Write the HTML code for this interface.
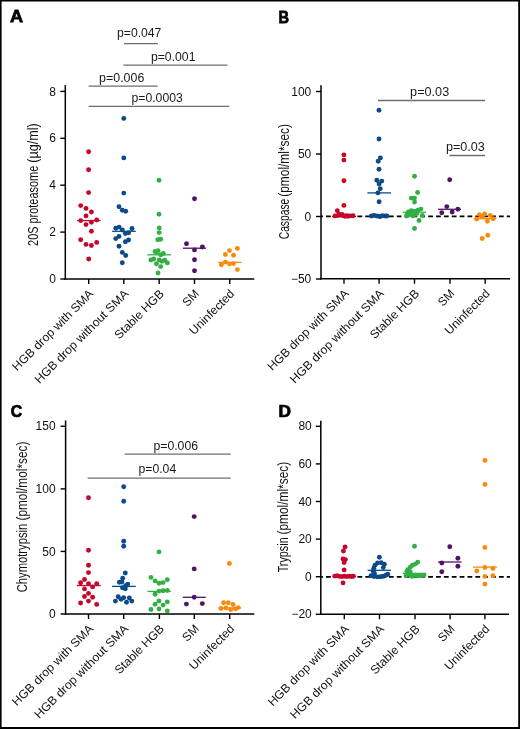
<!DOCTYPE html>
<html><head><meta charset="utf-8"><title>Proteasome activity figure</title>
<style>
html,body{margin:0;padding:0;background:#fff;}
svg{display:block;font-family:"Liberation Sans", sans-serif;}
</style></head>
<body>
<svg width="520" height="729" viewBox="0 0 520 729">
<rect width="520" height="729" fill="#fff"/>
<line x1="65.3" y1="85.1" x2="65.3" y2="279.75" stroke="#000" stroke-width="1.5"/>
<line x1="64.55" y1="279" x2="254.3" y2="279" stroke="#000" stroke-width="1.5"/>
<line x1="60.3" y1="279.0" x2="65.3" y2="279.0" stroke="#000" stroke-width="1.4"/>
<line x1="60.3" y1="232.1" x2="65.3" y2="232.1" stroke="#000" stroke-width="1.4"/>
<line x1="60.3" y1="185.2" x2="65.3" y2="185.2" stroke="#000" stroke-width="1.4"/>
<line x1="60.3" y1="138.3" x2="65.3" y2="138.3" stroke="#000" stroke-width="1.4"/>
<line x1="60.3" y1="91.4" x2="65.3" y2="91.4" stroke="#000" stroke-width="1.4"/>
<line x1="88.7" y1="279" x2="88.7" y2="284" stroke="#000" stroke-width="1.4"/>
<line x1="123.8" y1="279" x2="123.8" y2="284" stroke="#000" stroke-width="1.4"/>
<line x1="159.2" y1="279" x2="159.2" y2="284" stroke="#000" stroke-width="1.4"/>
<line x1="194.5" y1="279" x2="194.5" y2="284" stroke="#000" stroke-width="1.4"/>
<line x1="229.7" y1="279" x2="229.7" y2="284" stroke="#000" stroke-width="1.4"/>
<line x1="124.1" y1="43.7" x2="158.0" y2="43.7" stroke="#6e6e6e" stroke-width="1.3"/>
<line x1="123.4" y1="65.1" x2="227.5" y2="65.1" stroke="#6e6e6e" stroke-width="1.3"/>
<line x1="88.6" y1="86.2" x2="157.7" y2="86.2" stroke="#6e6e6e" stroke-width="1.3"/>
<line x1="88.6" y1="106.3" x2="229.3" y2="106.3" stroke="#6e6e6e" stroke-width="1.3"/>
<line x1="77.1" y1="220.6" x2="100.5" y2="220.6" stroke="#c6062a" stroke-width="1.3"/>
<circle cx="88.6" cy="151.7" r="2.45" fill="#c6062a"/>
<circle cx="88.6" cy="169.7" r="2.45" fill="#c6062a"/>
<circle cx="88.6" cy="192.6" r="2.45" fill="#c6062a"/>
<circle cx="80.7" cy="205.6" r="2.45" fill="#c6062a"/>
<circle cx="86" cy="208.4" r="2.45" fill="#c6062a"/>
<circle cx="91.4" cy="212" r="2.45" fill="#c6062a"/>
<circle cx="86" cy="215.9" r="2.45" fill="#c6062a"/>
<circle cx="80.7" cy="220.6" r="2.45" fill="#c6062a"/>
<circle cx="96.7" cy="220" r="2.45" fill="#c6062a"/>
<circle cx="91.4" cy="222.2" r="2.45" fill="#c6062a"/>
<circle cx="86" cy="224.6" r="2.45" fill="#c6062a"/>
<circle cx="91.4" cy="231.2" r="2.45" fill="#c6062a"/>
<circle cx="80.7" cy="239.7" r="2.45" fill="#c6062a"/>
<circle cx="86" cy="244.4" r="2.45" fill="#c6062a"/>
<circle cx="96.7" cy="242.4" r="2.45" fill="#c6062a"/>
<circle cx="91.4" cy="245.5" r="2.45" fill="#c6062a"/>
<circle cx="88.7" cy="259" r="2.45" fill="#c6062a"/>
<line x1="112.1" y1="231.3" x2="135.8" y2="231.3" stroke="#0c4a8a" stroke-width="1.3"/>
<circle cx="123.8" cy="118.4" r="2.45" fill="#0c4a8a"/>
<circle cx="123.8" cy="157.9" r="2.45" fill="#0c4a8a"/>
<circle cx="123.8" cy="193.1" r="2.45" fill="#0c4a8a"/>
<circle cx="119" cy="206.8" r="2.45" fill="#0c4a8a"/>
<circle cx="122.3" cy="210.2" r="2.45" fill="#0c4a8a"/>
<circle cx="125.7" cy="211.3" r="2.45" fill="#0c4a8a"/>
<circle cx="115.8" cy="228.2" r="2.45" fill="#0c4a8a"/>
<circle cx="119.1" cy="227.1" r="2.45" fill="#0c4a8a"/>
<circle cx="122.3" cy="230" r="2.45" fill="#0c4a8a"/>
<circle cx="132" cy="228.5" r="2.45" fill="#0c4a8a"/>
<circle cx="125.4" cy="233.5" r="2.45" fill="#0c4a8a"/>
<circle cx="128.6" cy="232.7" r="2.45" fill="#0c4a8a"/>
<circle cx="119" cy="236.4" r="2.45" fill="#0c4a8a"/>
<circle cx="115.8" cy="238.6" r="2.45" fill="#0c4a8a"/>
<circle cx="125.4" cy="241.7" r="2.45" fill="#0c4a8a"/>
<circle cx="128.6" cy="240" r="2.45" fill="#0c4a8a"/>
<circle cx="119" cy="246.2" r="2.45" fill="#0c4a8a"/>
<circle cx="122.3" cy="252.4" r="2.45" fill="#0c4a8a"/>
<circle cx="125.7" cy="255.5" r="2.45" fill="#0c4a8a"/>
<circle cx="122.3" cy="262.8" r="2.45" fill="#0c4a8a"/>
<line x1="147.3" y1="254.8" x2="171" y2="254.8" stroke="#31b046" stroke-width="1.3"/>
<circle cx="159" cy="180.3" r="2.45" fill="#31b046"/>
<circle cx="159" cy="214.2" r="2.45" fill="#31b046"/>
<circle cx="159.2" cy="227.9" r="2.45" fill="#31b046"/>
<circle cx="159.2" cy="232.6" r="2.45" fill="#31b046"/>
<circle cx="157.8" cy="239.8" r="2.45" fill="#31b046"/>
<circle cx="160.7" cy="239.2" r="2.45" fill="#31b046"/>
<circle cx="155.1" cy="251.4" r="2.45" fill="#31b046"/>
<circle cx="158" cy="250.8" r="2.45" fill="#31b046"/>
<circle cx="156.5" cy="252.6" r="2.45" fill="#31b046"/>
<circle cx="160.7" cy="254.7" r="2.45" fill="#31b046"/>
<circle cx="163.3" cy="253.4" r="2.45" fill="#31b046"/>
<circle cx="150.9" cy="260" r="2.45" fill="#31b046"/>
<circle cx="153.7" cy="259" r="2.45" fill="#31b046"/>
<circle cx="159.2" cy="260" r="2.45" fill="#31b046"/>
<circle cx="161.9" cy="261.3" r="2.45" fill="#31b046"/>
<circle cx="164.8" cy="260.3" r="2.45" fill="#31b046"/>
<circle cx="167.4" cy="262.9" r="2.45" fill="#31b046"/>
<circle cx="156.4" cy="263.7" r="2.45" fill="#31b046"/>
<circle cx="160.7" cy="266.6" r="2.45" fill="#31b046"/>
<circle cx="158" cy="273" r="2.45" fill="#31b046"/>
<line x1="182.9" y1="248.2" x2="206" y2="248.2" stroke="#4f1466" stroke-width="1.3"/>
<circle cx="194.5" cy="198.7" r="2.45" fill="#4f1466"/>
<circle cx="186.5" cy="243.8" r="2.45" fill="#4f1466"/>
<circle cx="202.4" cy="247" r="2.45" fill="#4f1466"/>
<circle cx="194.5" cy="249.9" r="2.45" fill="#4f1466"/>
<circle cx="194.5" cy="259.7" r="2.45" fill="#4f1466"/>
<circle cx="194.5" cy="270.8" r="2.45" fill="#4f1466"/>
<line x1="218.2" y1="262.4" x2="241.6" y2="262.4" stroke="#f98b0c" stroke-width="1.3"/>
<circle cx="237.4" cy="248.4" r="2.45" fill="#f98b0c"/>
<circle cx="229.5" cy="250.6" r="2.45" fill="#f98b0c"/>
<circle cx="225.4" cy="254.5" r="2.45" fill="#f98b0c"/>
<circle cx="233.5" cy="255.2" r="2.45" fill="#f98b0c"/>
<circle cx="225.4" cy="262.1" r="2.45" fill="#f98b0c"/>
<circle cx="221.4" cy="264.7" r="2.45" fill="#f98b0c"/>
<circle cx="229.5" cy="263.9" r="2.45" fill="#f98b0c"/>
<circle cx="233.5" cy="263.6" r="2.45" fill="#f98b0c"/>
<circle cx="237.4" cy="269.6" r="2.45" fill="#f98b0c"/>
<line x1="321" y1="85.2" x2="321" y2="279.55" stroke="#000" stroke-width="1.5"/>
<line x1="320.25" y1="278.8" x2="510" y2="278.8" stroke="#000" stroke-width="1.5"/>
<line x1="316" y1="91.5" x2="321" y2="91.5" stroke="#000" stroke-width="1.4"/>
<line x1="316" y1="154.0" x2="321" y2="154.0" stroke="#000" stroke-width="1.4"/>
<line x1="316" y1="216.5" x2="321" y2="216.5" stroke="#000" stroke-width="1.4"/>
<line x1="316" y1="279.0" x2="321" y2="279.0" stroke="#000" stroke-width="1.4"/>
<line x1="344" y1="278.8" x2="344" y2="283.8" stroke="#000" stroke-width="1.4"/>
<line x1="379.1" y1="278.8" x2="379.1" y2="283.8" stroke="#000" stroke-width="1.4"/>
<line x1="414.5" y1="278.8" x2="414.5" y2="283.8" stroke="#000" stroke-width="1.4"/>
<line x1="450" y1="278.8" x2="450" y2="283.8" stroke="#000" stroke-width="1.4"/>
<line x1="485.2" y1="278.8" x2="485.2" y2="283.8" stroke="#000" stroke-width="1.4"/>
<line x1="321" y1="216.35" x2="510" y2="216.35" stroke="#000" stroke-width="1.7" stroke-dasharray="4.8 3.06" stroke-dashoffset="2.86"/>
<line x1="378" y1="100.5" x2="485" y2="100.5" stroke="#6e6e6e" stroke-width="1.3"/>
<line x1="449.5" y1="155.5" x2="485" y2="155.5" stroke="#6e6e6e" stroke-width="1.3"/>
<line x1="332" y1="216.5" x2="356" y2="216.5" stroke="#c6062a" stroke-width="1.3"/>
<circle cx="343.9" cy="154.9" r="2.45" fill="#c6062a"/>
<circle cx="343.9" cy="160.1" r="2.45" fill="#c6062a"/>
<circle cx="343.9" cy="180.7" r="2.45" fill="#c6062a"/>
<circle cx="343.9" cy="205.4" r="2.45" fill="#c6062a"/>
<circle cx="337.3" cy="210.7" r="2.45" fill="#c6062a"/>
<circle cx="335" cy="215.9" r="2.45" fill="#c6062a"/>
<circle cx="338" cy="215.6" r="2.45" fill="#c6062a"/>
<circle cx="341" cy="215.3" r="2.45" fill="#c6062a"/>
<circle cx="344" cy="215.9" r="2.45" fill="#c6062a"/>
<circle cx="347" cy="215.6" r="2.45" fill="#c6062a"/>
<circle cx="350" cy="215.9" r="2.45" fill="#c6062a"/>
<circle cx="353" cy="215.8" r="2.45" fill="#c6062a"/>
<circle cx="339" cy="214.1" r="2.45" fill="#c6062a"/>
<circle cx="342" cy="214.4" r="2.45" fill="#c6062a"/>
<circle cx="345" cy="216.2" r="2.45" fill="#c6062a"/>
<circle cx="348" cy="216.2" r="2.45" fill="#c6062a"/>
<line x1="367.4" y1="192.9" x2="391" y2="192.9" stroke="#0c4a8a" stroke-width="1.3"/>
<circle cx="379" cy="110.2" r="2.45" fill="#0c4a8a"/>
<circle cx="379" cy="139" r="2.45" fill="#0c4a8a"/>
<circle cx="380.4" cy="157.9" r="2.45" fill="#0c4a8a"/>
<circle cx="378.2" cy="161.3" r="2.45" fill="#0c4a8a"/>
<circle cx="379" cy="169.2" r="2.45" fill="#0c4a8a"/>
<circle cx="376.9" cy="180.3" r="2.45" fill="#0c4a8a"/>
<circle cx="381.8" cy="181.1" r="2.45" fill="#0c4a8a"/>
<circle cx="379.1" cy="184" r="2.45" fill="#0c4a8a"/>
<circle cx="380.2" cy="188.8" r="2.45" fill="#0c4a8a"/>
<circle cx="377.9" cy="192.9" r="2.45" fill="#0c4a8a"/>
<circle cx="379.1" cy="201.7" r="2.45" fill="#0c4a8a"/>
<circle cx="371.4" cy="216.0" r="2.45" fill="#0c4a8a"/>
<circle cx="374" cy="215.4" r="2.45" fill="#0c4a8a"/>
<circle cx="376.8" cy="216.0" r="2.45" fill="#0c4a8a"/>
<circle cx="379.6" cy="216.4" r="2.45" fill="#0c4a8a"/>
<circle cx="382.4" cy="215.8" r="2.45" fill="#0c4a8a"/>
<circle cx="385.2" cy="216.0" r="2.45" fill="#0c4a8a"/>
<circle cx="386.9" cy="216.0" r="2.45" fill="#0c4a8a"/>
<circle cx="380" cy="216.6" r="2.45" fill="#0c4a8a"/>
<line x1="402.7" y1="212.2" x2="426.2" y2="212.2" stroke="#31b046" stroke-width="1.3"/>
<circle cx="414.5" cy="176.2" r="2.45" fill="#31b046"/>
<circle cx="417.6" cy="192.5" r="2.45" fill="#31b046"/>
<circle cx="411.3" cy="198.1" r="2.45" fill="#31b046"/>
<circle cx="414.5" cy="198.1" r="2.45" fill="#31b046"/>
<circle cx="414.5" cy="202" r="2.45" fill="#31b046"/>
<circle cx="420.9" cy="209.1" r="2.45" fill="#31b046"/>
<circle cx="418" cy="210.1" r="2.45" fill="#31b046"/>
<circle cx="414.7" cy="211.1" r="2.45" fill="#31b046"/>
<circle cx="411.3" cy="210.6" r="2.45" fill="#31b046"/>
<circle cx="408.4" cy="212" r="2.45" fill="#31b046"/>
<circle cx="407" cy="214.9" r="2.45" fill="#31b046"/>
<circle cx="406.5" cy="216.1" r="2.45" fill="#31b046"/>
<circle cx="409.9" cy="214.4" r="2.45" fill="#31b046"/>
<circle cx="412.8" cy="215.9" r="2.45" fill="#31b046"/>
<circle cx="415.6" cy="214.4" r="2.45" fill="#31b046"/>
<circle cx="417.1" cy="213" r="2.45" fill="#31b046"/>
<circle cx="411.5" cy="213" r="2.45" fill="#31b046"/>
<circle cx="422.4" cy="215.4" r="2.45" fill="#31b046"/>
<circle cx="419" cy="220.5" r="2.45" fill="#31b046"/>
<circle cx="414.5" cy="228.5" r="2.45" fill="#31b046"/>
<line x1="438" y1="209.3" x2="461" y2="209.3" stroke="#4f1466" stroke-width="1.3"/>
<circle cx="449.7" cy="179.7" r="2.45" fill="#4f1466"/>
<circle cx="446.8" cy="206.6" r="2.45" fill="#4f1466"/>
<circle cx="441.8" cy="212.8" r="2.45" fill="#4f1466"/>
<circle cx="452.2" cy="212" r="2.45" fill="#4f1466"/>
<circle cx="457.9" cy="209.3" r="2.45" fill="#4f1466"/>
<line x1="473.7" y1="218.7" x2="496.6" y2="218.7" stroke="#f98b0c" stroke-width="1.3"/>
<circle cx="479.5" cy="214.6" r="2.45" fill="#f98b0c"/>
<circle cx="484.7" cy="214" r="2.45" fill="#f98b0c"/>
<circle cx="490.2" cy="215.4" r="2.45" fill="#f98b0c"/>
<circle cx="482.2" cy="216.7" r="2.45" fill="#f98b0c"/>
<circle cx="476.7" cy="219.1" r="2.45" fill="#f98b0c"/>
<circle cx="493.1" cy="218.8" r="2.45" fill="#f98b0c"/>
<circle cx="487.4" cy="221.2" r="2.45" fill="#f98b0c"/>
<circle cx="487.8" cy="235.2" r="2.45" fill="#f98b0c"/>
<circle cx="482.2" cy="238.5" r="2.45" fill="#f98b0c"/>
<line x1="65.6" y1="420.5" x2="65.6" y2="614.75" stroke="#000" stroke-width="1.5"/>
<line x1="64.85" y1="614" x2="254.3" y2="614" stroke="#000" stroke-width="1.5"/>
<line x1="60.599999999999994" y1="614.0" x2="65.6" y2="614.0" stroke="#000" stroke-width="1.4"/>
<line x1="60.599999999999994" y1="551.43" x2="65.6" y2="551.43" stroke="#000" stroke-width="1.4"/>
<line x1="60.599999999999994" y1="488.87" x2="65.6" y2="488.87" stroke="#000" stroke-width="1.4"/>
<line x1="60.599999999999994" y1="426.3" x2="65.6" y2="426.3" stroke="#000" stroke-width="1.4"/>
<line x1="88.5" y1="614" x2="88.5" y2="619" stroke="#000" stroke-width="1.4"/>
<line x1="123.7" y1="614" x2="123.7" y2="619" stroke="#000" stroke-width="1.4"/>
<line x1="159.4" y1="614" x2="159.4" y2="619" stroke="#000" stroke-width="1.4"/>
<line x1="194.3" y1="614" x2="194.3" y2="619" stroke="#000" stroke-width="1.4"/>
<line x1="229.7" y1="614" x2="229.7" y2="619" stroke="#000" stroke-width="1.4"/>
<line x1="124.6" y1="454.2" x2="230.8" y2="454.2" stroke="#6e6e6e" stroke-width="1.3"/>
<line x1="87.7" y1="478.1" x2="230.8" y2="478.1" stroke="#6e6e6e" stroke-width="1.3"/>
<line x1="76.9" y1="585.5" x2="100.7" y2="585.5" stroke="#c6062a" stroke-width="1.3"/>
<circle cx="88.5" cy="497.7" r="2.45" fill="#c6062a"/>
<circle cx="88.5" cy="550.2" r="2.45" fill="#c6062a"/>
<circle cx="88.5" cy="565.2" r="2.45" fill="#c6062a"/>
<circle cx="88.5" cy="572.6" r="2.45" fill="#c6062a"/>
<circle cx="84.5" cy="579.5" r="2.45" fill="#c6062a"/>
<circle cx="80.6" cy="582.7" r="2.45" fill="#c6062a"/>
<circle cx="88.5" cy="583.7" r="2.45" fill="#c6062a"/>
<circle cx="96.7" cy="583.7" r="2.45" fill="#c6062a"/>
<circle cx="92.6" cy="586.9" r="2.45" fill="#c6062a"/>
<circle cx="84.5" cy="588.9" r="2.45" fill="#c6062a"/>
<circle cx="88.5" cy="593.4" r="2.45" fill="#c6062a"/>
<circle cx="84.5" cy="596.5" r="2.45" fill="#c6062a"/>
<circle cx="92.6" cy="597.3" r="2.45" fill="#c6062a"/>
<circle cx="88.5" cy="601.1" r="2.45" fill="#c6062a"/>
<circle cx="80.6" cy="603" r="2.45" fill="#c6062a"/>
<circle cx="96.7" cy="604.4" r="2.45" fill="#c6062a"/>
<line x1="112" y1="586.4" x2="135.8" y2="586.4" stroke="#0c4a8a" stroke-width="1.3"/>
<circle cx="123.7" cy="486.7" r="2.45" fill="#0c4a8a"/>
<circle cx="123.7" cy="501.2" r="2.45" fill="#0c4a8a"/>
<circle cx="123.7" cy="541.2" r="2.45" fill="#0c4a8a"/>
<circle cx="123.7" cy="546.3" r="2.45" fill="#0c4a8a"/>
<circle cx="125.3" cy="573" r="2.45" fill="#0c4a8a"/>
<circle cx="122.7" cy="578.3" r="2.45" fill="#0c4a8a"/>
<circle cx="119.4" cy="582.3" r="2.45" fill="#0c4a8a"/>
<circle cx="121.9" cy="582" r="2.45" fill="#0c4a8a"/>
<circle cx="127.8" cy="584.1" r="2.45" fill="#0c4a8a"/>
<circle cx="125.6" cy="585.7" r="2.45" fill="#0c4a8a"/>
<circle cx="122.5" cy="587.8" r="2.45" fill="#0c4a8a"/>
<circle cx="125.3" cy="588.8" r="2.45" fill="#0c4a8a"/>
<circle cx="118.2" cy="596.8" r="2.45" fill="#0c4a8a"/>
<circle cx="121" cy="599.3" r="2.45" fill="#0c4a8a"/>
<circle cx="123.7" cy="597.7" r="2.45" fill="#0c4a8a"/>
<circle cx="115.4" cy="601.1" r="2.45" fill="#0c4a8a"/>
<circle cx="126.5" cy="602.3" r="2.45" fill="#0c4a8a"/>
<circle cx="129.3" cy="598" r="2.45" fill="#0c4a8a"/>
<circle cx="131.8" cy="601.1" r="2.45" fill="#0c4a8a"/>
<line x1="147.5" y1="591.4" x2="170.8" y2="591.4" stroke="#31b046" stroke-width="1.3"/>
<circle cx="159" cy="551.9" r="2.45" fill="#31b046"/>
<circle cx="151" cy="577.4" r="2.45" fill="#31b046"/>
<circle cx="155.1" cy="580.9" r="2.45" fill="#31b046"/>
<circle cx="159" cy="583.2" r="2.45" fill="#31b046"/>
<circle cx="163.1" cy="582.6" r="2.45" fill="#31b046"/>
<circle cx="167.3" cy="579.8" r="2.45" fill="#31b046"/>
<circle cx="159" cy="591.1" r="2.45" fill="#31b046"/>
<circle cx="163.1" cy="590.8" r="2.45" fill="#31b046"/>
<circle cx="167.3" cy="590.5" r="2.45" fill="#31b046"/>
<circle cx="155.1" cy="594.2" r="2.45" fill="#31b046"/>
<circle cx="159" cy="601" r="2.45" fill="#31b046"/>
<circle cx="155.1" cy="604.3" r="2.45" fill="#31b046"/>
<circle cx="163.1" cy="605.1" r="2.45" fill="#31b046"/>
<circle cx="167.3" cy="601.9" r="2.45" fill="#31b046"/>
<circle cx="151" cy="609.5" r="2.45" fill="#31b046"/>
<circle cx="159" cy="609" r="2.45" fill="#31b046"/>
<circle cx="167.3" cy="610.9" r="2.45" fill="#31b046"/>
<line x1="182.8" y1="597.3" x2="205.8" y2="597.3" stroke="#4f1466" stroke-width="1.3"/>
<circle cx="194.2" cy="516.6" r="2.45" fill="#4f1466"/>
<circle cx="194.2" cy="568.9" r="2.45" fill="#4f1466"/>
<circle cx="194.2" cy="597.3" r="2.45" fill="#4f1466"/>
<circle cx="186.4" cy="604.1" r="2.45" fill="#4f1466"/>
<circle cx="202.3" cy="603.6" r="2.45" fill="#4f1466"/>
<line x1="218" y1="608" x2="241.2" y2="608" stroke="#f98b0c" stroke-width="1.3"/>
<circle cx="229.4" cy="563.5" r="2.45" fill="#f98b0c"/>
<circle cx="223.6" cy="602.7" r="2.45" fill="#f98b0c"/>
<circle cx="228.3" cy="602.7" r="2.45" fill="#f98b0c"/>
<circle cx="233" cy="604.5" r="2.45" fill="#f98b0c"/>
<circle cx="221.1" cy="608.5" r="2.45" fill="#f98b0c"/>
<circle cx="226" cy="608" r="2.45" fill="#f98b0c"/>
<circle cx="230.7" cy="609.5" r="2.45" fill="#f98b0c"/>
<circle cx="235.4" cy="608.9" r="2.45" fill="#f98b0c"/>
<circle cx="238.1" cy="607.6" r="2.45" fill="#f98b0c"/>
<line x1="320.8" y1="420.7" x2="320.8" y2="615.05" stroke="#000" stroke-width="1.5"/>
<line x1="320.05" y1="614.3" x2="509" y2="614.3" stroke="#000" stroke-width="1.5"/>
<line x1="315.8" y1="426.3" x2="320.8" y2="426.3" stroke="#000" stroke-width="1.4"/>
<line x1="315.8" y1="463.9" x2="320.8" y2="463.9" stroke="#000" stroke-width="1.4"/>
<line x1="315.8" y1="501.5" x2="320.8" y2="501.5" stroke="#000" stroke-width="1.4"/>
<line x1="315.8" y1="539.1" x2="320.8" y2="539.1" stroke="#000" stroke-width="1.4"/>
<line x1="315.8" y1="576.7" x2="320.8" y2="576.7" stroke="#000" stroke-width="1.4"/>
<line x1="315.8" y1="614.3" x2="320.8" y2="614.3" stroke="#000" stroke-width="1.4"/>
<line x1="344.3" y1="614.3" x2="344.3" y2="619.3" stroke="#000" stroke-width="1.4"/>
<line x1="379.5" y1="614.3" x2="379.5" y2="619.3" stroke="#000" stroke-width="1.4"/>
<line x1="415" y1="614.3" x2="415" y2="619.3" stroke="#000" stroke-width="1.4"/>
<line x1="450.1" y1="614.3" x2="450.1" y2="619.3" stroke="#000" stroke-width="1.4"/>
<line x1="484.9" y1="614.3" x2="484.9" y2="619.3" stroke="#000" stroke-width="1.4"/>
<line x1="320.8" y1="576.85" x2="510" y2="576.85" stroke="#000" stroke-width="1.7" stroke-dasharray="4.8 3.06" stroke-dashoffset="2.66"/>
<line x1="332.5" y1="576.4" x2="355.7" y2="576.4" stroke="#c6062a" stroke-width="1.3"/>
<circle cx="345.1" cy="546.9" r="2.45" fill="#c6062a"/>
<circle cx="343.4" cy="551" r="2.45" fill="#c6062a"/>
<circle cx="343" cy="558.9" r="2.45" fill="#c6062a"/>
<circle cx="345.4" cy="559.6" r="2.45" fill="#c6062a"/>
<circle cx="344.1" cy="562.6" r="2.45" fill="#c6062a"/>
<circle cx="344.1" cy="569.9" r="2.45" fill="#c6062a"/>
<circle cx="343" cy="582.9" r="2.45" fill="#c6062a"/>
<circle cx="334.8" cy="576.1" r="2.45" fill="#c6062a"/>
<circle cx="337.2" cy="575.8" r="2.45" fill="#c6062a"/>
<circle cx="339.6" cy="576.4" r="2.45" fill="#c6062a"/>
<circle cx="342" cy="576.6" r="2.45" fill="#c6062a"/>
<circle cx="344.4" cy="576.3" r="2.45" fill="#c6062a"/>
<circle cx="346.8" cy="576.6" r="2.45" fill="#c6062a"/>
<circle cx="349.2" cy="576.2" r="2.45" fill="#c6062a"/>
<circle cx="351.6" cy="576.5" r="2.45" fill="#c6062a"/>
<circle cx="353.4" cy="576.3" r="2.45" fill="#c6062a"/>
<line x1="367.6" y1="570.3" x2="390.9" y2="570.3" stroke="#0c4a8a" stroke-width="1.3"/>
<circle cx="379.4" cy="557.2" r="2.45" fill="#0c4a8a"/>
<circle cx="377.5" cy="562.9" r="2.45" fill="#0c4a8a"/>
<circle cx="381.2" cy="562.7" r="2.45" fill="#0c4a8a"/>
<circle cx="384.3" cy="564.3" r="2.45" fill="#0c4a8a"/>
<circle cx="383.3" cy="567.6" r="2.45" fill="#0c4a8a"/>
<circle cx="375.0" cy="565.2" r="2.45" fill="#0c4a8a"/>
<circle cx="373.8" cy="568.2" r="2.45" fill="#0c4a8a"/>
<circle cx="373.2" cy="571.2" r="2.45" fill="#0c4a8a"/>
<circle cx="374.5" cy="573.5" r="2.45" fill="#0c4a8a"/>
<circle cx="371" cy="575.8" r="2.45" fill="#0c4a8a"/>
<circle cx="374" cy="576.6" r="2.45" fill="#0c4a8a"/>
<circle cx="377.5" cy="576.9" r="2.45" fill="#0c4a8a"/>
<circle cx="380.5" cy="576.8" r="2.45" fill="#0c4a8a"/>
<circle cx="383.3" cy="576.2" r="2.45" fill="#0c4a8a"/>
<circle cx="386" cy="575.2" r="2.45" fill="#0c4a8a"/>
<circle cx="387.8" cy="574.2" r="2.45" fill="#0c4a8a"/>
<line x1="402.9" y1="573.4" x2="426.3" y2="573.4" stroke="#31b046" stroke-width="1.3"/>
<circle cx="414.5" cy="546.2" r="2.45" fill="#31b046"/>
<circle cx="417.7" cy="562.2" r="2.45" fill="#31b046"/>
<circle cx="415.2" cy="564.1" r="2.45" fill="#31b046"/>
<circle cx="412.5" cy="565.3" r="2.45" fill="#31b046"/>
<circle cx="410.3" cy="567.2" r="2.45" fill="#31b046"/>
<circle cx="407.8" cy="569.6" r="2.45" fill="#31b046"/>
<circle cx="406.9" cy="571.5" r="2.45" fill="#31b046"/>
<circle cx="406" cy="575.8" r="2.45" fill="#31b046"/>
<circle cx="409.1" cy="574.5" r="2.45" fill="#31b046"/>
<circle cx="412.2" cy="576.4" r="2.45" fill="#31b046"/>
<circle cx="415.2" cy="575.2" r="2.45" fill="#31b046"/>
<circle cx="418.3" cy="575.8" r="2.45" fill="#31b046"/>
<circle cx="421.4" cy="575.5" r="2.45" fill="#31b046"/>
<circle cx="423.8" cy="575.2" r="2.45" fill="#31b046"/>
<circle cx="410.3" cy="572.1" r="2.45" fill="#31b046"/>
<line x1="438" y1="562" x2="461.6" y2="562" stroke="#4f1466" stroke-width="1.3"/>
<circle cx="449.8" cy="546.8" r="2.45" fill="#4f1466"/>
<circle cx="457.9" cy="558.3" r="2.45" fill="#4f1466"/>
<circle cx="441.8" cy="563" r="2.45" fill="#4f1466"/>
<circle cx="457.9" cy="566.3" r="2.45" fill="#4f1466"/>
<circle cx="441.8" cy="571.7" r="2.45" fill="#4f1466"/>
<line x1="473" y1="567.1" x2="496.9" y2="567.1" stroke="#f98b0c" stroke-width="1.3"/>
<circle cx="485" cy="460.4" r="2.45" fill="#f98b0c"/>
<circle cx="485" cy="484.4" r="2.45" fill="#f98b0c"/>
<circle cx="484.9" cy="547.5" r="2.45" fill="#f98b0c"/>
<circle cx="484.9" cy="567.4" r="2.45" fill="#f98b0c"/>
<circle cx="492.9" cy="568.4" r="2.45" fill="#f98b0c"/>
<circle cx="476.8" cy="571" r="2.45" fill="#f98b0c"/>
<circle cx="484.9" cy="576.4" r="2.45" fill="#f98b0c"/>
<circle cx="492.9" cy="575.8" r="2.45" fill="#f98b0c"/>
<circle cx="484.9" cy="584.1" r="2.45" fill="#f98b0c"/>
<rect x="0" y="0" width="520" height="1.5" fill="#000"/>
<rect x="0" y="0" width="1.6" height="729" fill="#000"/>
<rect x="518.2" y="0" width="1.8" height="729" fill="#000"/>
<rect x="0" y="727" width="520" height="2" fill="#000"/>
<g style="opacity:0.999">
<text x="55.9" y="283.1" font-size="12" text-anchor="end" fill="#111">0</text>
<text x="55.9" y="236.2" font-size="12" text-anchor="end" fill="#111">2</text>
<text x="55.9" y="189.29999999999998" font-size="12" text-anchor="end" fill="#111">4</text>
<text x="55.9" y="142.4" font-size="12" text-anchor="end" fill="#111">6</text>
<text x="55.9" y="95.5" font-size="12" text-anchor="end" fill="#111">8</text>
<text transform="translate(94.10000000000001,294.5) rotate(-45)" font-size="12" text-anchor="end" textLength="109.0" lengthAdjust="spacingAndGlyphs" fill="#111">HGB drop with SMA</text>
<text transform="translate(129.2,294.5) rotate(-45)" font-size="12" text-anchor="end" textLength="127.0" lengthAdjust="spacingAndGlyphs" fill="#111">HGB drop without SMA</text>
<text transform="translate(164.6,294.5) rotate(-45)" font-size="12" text-anchor="end" textLength="64.0" lengthAdjust="spacingAndGlyphs" fill="#111">Stable HGB</text>
<text transform="translate(199.9,294.5) rotate(-45)" font-size="12" text-anchor="end" textLength="18.0" lengthAdjust="spacingAndGlyphs" fill="#111">SM</text>
<text transform="translate(235.1,294.5) rotate(-45)" font-size="12" text-anchor="end" textLength="58.0" lengthAdjust="spacingAndGlyphs" fill="#111">Uninfected</text>
<text transform="translate(38.0,245.95) rotate(-90)" font-size="14.6" textLength="80.2" lengthAdjust="spacingAndGlyphs" fill="#111">20S proteasome</text>
<text transform="translate(38.0,162.65) rotate(-90)" font-size="14.6" textLength="39.400000000000006" lengthAdjust="spacingAndGlyphs" fill="#111">(µg/ml)</text>
<text x="117.0" y="37.0" font-size="12" textLength="44.39999999999999" lengthAdjust="spacingAndGlyphs" fill="#1a1a1a">p=0.047</text>
<text x="150.9" y="60.9" font-size="12" textLength="44.59999999999998" lengthAdjust="spacingAndGlyphs" fill="#1a1a1a">p=0.001</text>
<text x="99.1" y="82.0" font-size="12" textLength="45.2" lengthAdjust="spacingAndGlyphs" fill="#1a1a1a">p=0.006</text>
<text x="131.5" y="101.7" font-size="12" textLength="51.3" lengthAdjust="spacingAndGlyphs" fill="#1a1a1a">p=0.0003</text>
<text x="311.3" y="95.6" font-size="12" text-anchor="end" fill="#111">100</text>
<text x="311.3" y="158.1" font-size="12" text-anchor="end" fill="#111">50</text>
<text x="311.3" y="220.6" font-size="12" text-anchor="end" fill="#111">0</text>
<text x="311.3" y="283.1" font-size="12" text-anchor="end" fill="#111">−50</text>
<text transform="translate(349.4,294.3) rotate(-45)" font-size="12" text-anchor="end" textLength="109.0" lengthAdjust="spacingAndGlyphs" fill="#111">HGB drop with SMA</text>
<text transform="translate(384.5,294.3) rotate(-45)" font-size="12" text-anchor="end" textLength="127.0" lengthAdjust="spacingAndGlyphs" fill="#111">HGB drop without SMA</text>
<text transform="translate(419.9,294.3) rotate(-45)" font-size="12" text-anchor="end" textLength="64.0" lengthAdjust="spacingAndGlyphs" fill="#111">Stable HGB</text>
<text transform="translate(455.4,294.3) rotate(-45)" font-size="12" text-anchor="end" textLength="18.0" lengthAdjust="spacingAndGlyphs" fill="#111">SM</text>
<text transform="translate(490.59999999999997,294.3) rotate(-45)" font-size="12" text-anchor="end" textLength="58.0" lengthAdjust="spacingAndGlyphs" fill="#111">Uninfected</text>
<text transform="translate(289.4,239.25) rotate(-90)" font-size="14.6" textLength="40.5" lengthAdjust="spacingAndGlyphs" fill="#111">Caspase</text>
<text transform="translate(289.4,196.75) rotate(-90)" font-size="14.6" textLength="72.8" lengthAdjust="spacingAndGlyphs" fill="#111">(pmol/ml*sec)</text>
<text x="410.1" y="95.5" font-size="12" textLength="39.10000000000001" lengthAdjust="spacingAndGlyphs" fill="#1a1a1a">p=0.03</text>
<text x="445.90000000000003" y="150.5" font-size="12" textLength="38.8" lengthAdjust="spacingAndGlyphs" fill="#1a1a1a">p=0.03</text>
<text x="55.6" y="618.1" font-size="12" text-anchor="end" fill="#111">0</text>
<text x="55.6" y="555.53" font-size="12" text-anchor="end" fill="#111">50</text>
<text x="55.6" y="492.97" font-size="12" text-anchor="end" fill="#111">100</text>
<text x="55.6" y="430.40000000000003" font-size="12" text-anchor="end" fill="#111">150</text>
<text transform="translate(93.9,629.5) rotate(-45)" font-size="12" text-anchor="end" textLength="109.0" lengthAdjust="spacingAndGlyphs" fill="#111">HGB drop with SMA</text>
<text transform="translate(129.1,629.5) rotate(-45)" font-size="12" text-anchor="end" textLength="127.0" lengthAdjust="spacingAndGlyphs" fill="#111">HGB drop without SMA</text>
<text transform="translate(164.8,629.5) rotate(-45)" font-size="12" text-anchor="end" textLength="64.0" lengthAdjust="spacingAndGlyphs" fill="#111">Stable HGB</text>
<text transform="translate(199.70000000000002,629.5) rotate(-45)" font-size="12" text-anchor="end" textLength="18.0" lengthAdjust="spacingAndGlyphs" fill="#111">SM</text>
<text transform="translate(235.1,629.5) rotate(-45)" font-size="12" text-anchor="end" textLength="58.0" lengthAdjust="spacingAndGlyphs" fill="#111">Uninfected</text>
<text transform="translate(27.2,592.35) rotate(-90)" font-size="14.6" textLength="68.7" lengthAdjust="spacingAndGlyphs" fill="#111">Chymotrypsin</text>
<text transform="translate(27.2,520.5500000000001) rotate(-90)" font-size="14.6" textLength="78.9" lengthAdjust="spacingAndGlyphs" fill="#111">(pmol/mol*sec)</text>
<text x="153.4" y="449.6" font-size="12" textLength="44.699999999999974" lengthAdjust="spacingAndGlyphs" fill="#1a1a1a">p=0.006</text>
<text x="138.5" y="473.0" font-size="12" textLength="37.7" lengthAdjust="spacingAndGlyphs" fill="#1a1a1a">p=0.04</text>
<text x="311.8" y="430.40000000000003" font-size="12" text-anchor="end" fill="#111">80</text>
<text x="311.8" y="468.0" font-size="12" text-anchor="end" fill="#111">60</text>
<text x="311.8" y="505.6" font-size="12" text-anchor="end" fill="#111">40</text>
<text x="311.8" y="543.2" font-size="12" text-anchor="end" fill="#111">20</text>
<text x="311.8" y="580.8000000000001" font-size="12" text-anchor="end" fill="#111">0</text>
<text x="311.8" y="618.4" font-size="12" text-anchor="end" fill="#111">−20</text>
<text transform="translate(349.7,629.8) rotate(-45)" font-size="12" text-anchor="end" textLength="109.0" lengthAdjust="spacingAndGlyphs" fill="#111">HGB drop with SMA</text>
<text transform="translate(384.9,629.8) rotate(-45)" font-size="12" text-anchor="end" textLength="127.0" lengthAdjust="spacingAndGlyphs" fill="#111">HGB drop without SMA</text>
<text transform="translate(420.4,629.8) rotate(-45)" font-size="12" text-anchor="end" textLength="64.0" lengthAdjust="spacingAndGlyphs" fill="#111">Stable HGB</text>
<text transform="translate(455.5,629.8) rotate(-45)" font-size="12" text-anchor="end" textLength="18.0" lengthAdjust="spacingAndGlyphs" fill="#111">SM</text>
<text transform="translate(490.29999999999995,629.8) rotate(-45)" font-size="12" text-anchor="end" textLength="58.0" lengthAdjust="spacingAndGlyphs" fill="#111">Uninfected</text>
<text transform="translate(288.0,572.35) rotate(-90)" font-size="14.6" textLength="35.0" lengthAdjust="spacingAndGlyphs" fill="#111">Trypsin</text>
<text transform="translate(288.0,534.5500000000001) rotate(-90)" font-size="14.6" textLength="72.8" lengthAdjust="spacingAndGlyphs" fill="#111">(pmol/ml*sec)</text>
<text transform="translate(10.1,22.25) scale(1.08,1)" font-size="16.8" font-weight="bold" fill="#000" stroke="#000" stroke-width="0.75">A</text>
<text transform="translate(278.5,22.65) scale(0.87,1)" font-size="16.8" font-weight="bold" fill="#000" stroke="#000" stroke-width="0.75">B</text>
<text transform="translate(10.7,416.9) scale(0.94,1)" font-size="16.8" font-weight="bold" fill="#000" stroke="#000" stroke-width="0.75">C</text>
<text transform="translate(278.6,416.75) scale(1.03,0.94)" font-size="16.8" font-weight="bold" fill="#000" stroke="#000" stroke-width="0.75">D</text>
</g>
</svg>
</body></html>
